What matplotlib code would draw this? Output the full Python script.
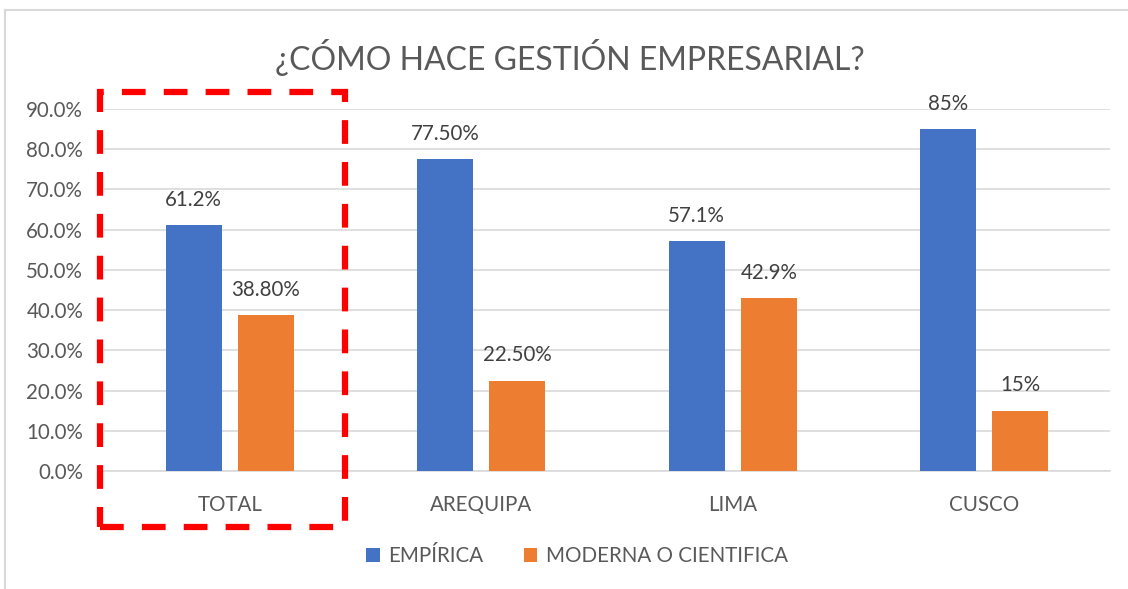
import matplotlib
matplotlib.use("Agg")
import matplotlib.pyplot as plt
import matplotlib.patches as mpatches
import numpy as np

categories = ["TOTAL", "AREQUIPA", "LIMA", "CUSCO"]
empirica = [61.2, 77.5, 57.1, 85.0]
moderna = [38.8, 22.5, 42.9, 15.0]
empirica_labels = ["61.2%", "77.50%", "57.1%", "85%"]
moderna_labels = ["38.80%", "22.50%", "42.9%", "15%"]
series_names = ["EMPÍRICA", "MODERNA O CIENTIFICA"]
yticks = [0, 10, 20, 30, 40, 50, 60, 70, 80, 90]

BLUE = "#4472C4"
ORANGE = "#ED7D31"
TXT = "#595959"
GRID = "#D9D9D9"

plt.rcParams['font.family'] = ['Lato', 'DejaVu Sans']

fig = plt.figure(figsize=(11.28, 5.89), dpi=100)
ax = fig.add_axes([104/1128, 1-471/589, (1110-104)/1128, (471-109)/589])

x = np.arange(len(categories))
w = 0.223
off = 0.143
b1 = ax.bar(x - off, empirica, w, color=BLUE, label=series_names[0], zorder=3)
b2 = ax.bar(x + off, moderna, w, color=ORANGE, label=series_names[1], zorder=3)

for rect, lab in zip(b1, empirica_labels):
    ax.annotate(lab, (rect.get_x() + rect.get_width()/2, rect.get_height()),
                xytext=(0, 11), textcoords="offset points", ha="center", va="bottom",
                fontsize=14.8, color="#404040")
for rect, lab in zip(b2, moderna_labels):
    ax.annotate(lab, (rect.get_x() + rect.get_width()/2, rect.get_height()),
                xytext=(0, 11), textcoords="offset points", ha="center", va="bottom",
                fontsize=14.8, color="#404040")

ax.set_xlim(-0.5, len(categories) - 0.5)
ax.set_ylim(0, 90)
ax.set_yticks(yticks)
ax.set_yticklabels([f"{v:.1f}%" for v in yticks])
ax.set_xticks(x)
ax.set_xticklabels(categories)
ax.tick_params(axis="y", length=0, pad=15, labelsize=14.8, labelcolor=TXT)
ax.tick_params(axis="x", length=0, pad=17, labelsize=14.8, labelcolor=TXT)
ax.grid(axis="y", color=GRID, linewidth=1.2, zorder=0)
for s in ["top", "right", "left"]:
    ax.spines[s].set_visible(False)
ax.spines["bottom"].set_color(GRID)
ax.spines["bottom"].set_linewidth(1.2)

# highlight box around TOTAL
rect = mpatches.Rectangle((-0.516, -13.9), 0.974, 108.1, fill=False,
                          edgecolor="#FF0000", linewidth=4.5,
                          linestyle=(0, (3.8, 2.9)), clip_on=False, zorder=5)
ax.add_patch(rect)

fig.text(0.505, 1-57/589, "¿CÓMO HACE GESTIÓN EMPRESARIAL?", ha="center", va="center",
         fontsize=23, color=TXT)

fig.legend(handles=[b1, b2], labels=series_names, loc="center",
           bbox_to_anchor=(577/1128, 1-556/589), ncol=2, frameon=False,
           fontsize=14.8, labelcolor=TXT, handlelength=0.65, handleheight=0.65,
           handletextpad=0.4, columnspacing=2.0)

# chart border (top and left visible)
fig.add_artist(plt.Line2D([4.5/1128, 4.5/1128], [0, 1-10/589], color=GRID, lw=1.5,
                          transform=fig.transFigure))
fig.add_artist(plt.Line2D([4.5/1128, 1], [1-10/589, 1-10/589], color=GRID, lw=1.5,
                          transform=fig.transFigure))

fig.savefig("out.png", dpi=100, facecolor="white")
